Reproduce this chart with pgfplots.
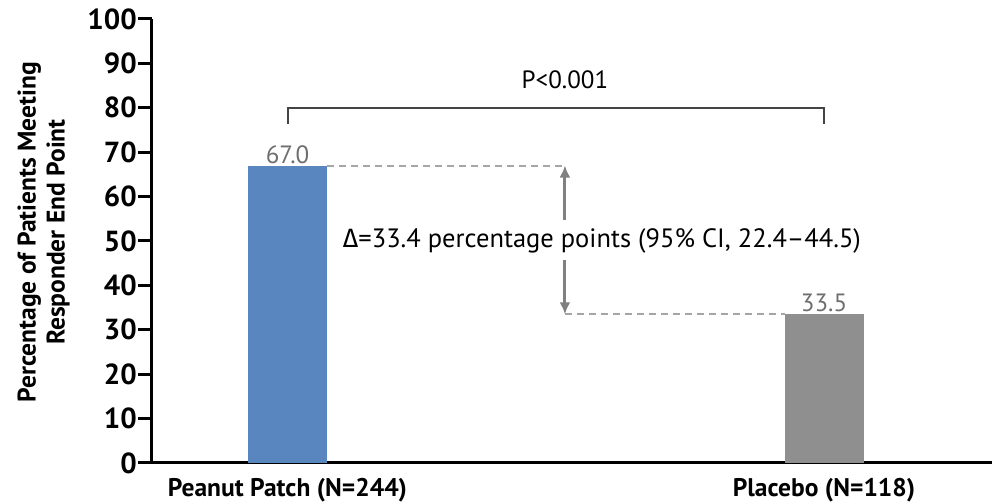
\documentclass[border=0pt]{standalone}
\usepackage{pgfplots}
\pgfplotsset{compat=1.18}
\usetikzlibrary{arrows.meta}
\usepackage{fontspec}
\setmainfont{PT Sans}
\newfontfamily\gr{Fira Sans}
\definecolor{barblue}{HTML}{5A86C0}
\definecolor{bargray}{HTML}{8F8F8F}
\definecolor{dashgray}{HTML}{A5A5A5}
\definecolor{arrgray}{HTML}{808080}
\definecolor{lblgray}{HTML}{6E6E6E}
\definecolor{brk}{HTML}{444444}
\begin{document}
\begin{tikzpicture}
\begin{axis}[
  name=ax,
  scale only axis,
  width=840pt, height=444pt,
  xmin=-0.2526, xmax=1.313,
  ymin=0, ymax=100,
  axis x line=bottom, axis y line=left,
  axis line style={-, line width=3pt, black},
  xtick={0,1},
  xticklabels={Peanut Patch (N=244), Placebo (N=118)},
  x tick style={draw=none},
  xticklabel style={font=\bfseries\fontsize{25.5}{27}\selectfont, inner sep=0pt, anchor=north, yshift=-1pt},
  ytick={0,10,...,100},
  tick align=outside,
  y tick style={line width=3pt, black},
  major tick length=14pt,
  yticklabel style={font=\bfseries\fontsize{29}{30}\selectfont, inner sep=1pt},
  /pgf/number format/assume math mode=true,
  ylabel={Percentage of Patients Meeting\\Responder End Point},
  ylabel style={font=\bfseries\fontsize{25.5}{29}\selectfont, align=center, at={(axis description cs:-0.129,0.52)}, anchor=center},
  clip=false,
]
\addplot[ybar, bar width=0.147, bar shift=0pt, fill=barblue, draw=none] coordinates {(0,67.0)};
\addplot[ybar, bar width=0.147, bar shift=0pt, fill=bargray, draw=none] coordinates {(1,33.5)};
\node[anchor=south, text=lblgray, font=\fontsize{25}{28}\selectfont, inner sep=2pt] at (axis cs:0,67.0) {67.0};
\node[anchor=south, text=lblgray, font=\fontsize{25}{28}\selectfont, inner sep=2pt] at (axis cs:1,33.5) {33.5};
% bracket
\draw[brk, line width=2pt] (axis cs:0,76.4) -- (axis cs:0,80) -- (axis cs:1,80) -- (axis cs:1,76.4);
\node[font=\fontsize{25}{28}\selectfont] at (axis cs:0.517,86.3) {P<0.001};
% dashed lines
\draw[dashgray, line width=2pt, dash pattern=on 7pt off 5pt] (axis cs:0.0735,67) -- (axis cs:0.517,67);
\draw[dashgray, line width=2pt, dash pattern=on 7pt off 5pt] (axis cs:0.517,33.5) -- (axis cs:0.9265,33.5);
% arrows
\draw[arrgray, line width=3pt, -{Latex[length=12pt,width=11pt]}] (axis cs:0.517,54.7) -- (axis cs:0.517,67);
\draw[arrgray, line width=3pt, -{Latex[length=12pt,width=11pt]}] (axis cs:0.517,45.7) -- (axis cs:0.517,33.5);
\node[font=\fontsize{26.5}{28}\selectfont] at (axis cs:0.586,50) {{\gr Δ}=33.4 percentage points (95\% CI, 22.4–44.5)};
\end{axis}
\pgfresetboundingbox
\path ([xshift=-152pt,yshift=-39pt]ax.south west) rectangle ([yshift=19pt]ax.north east);
\end{tikzpicture}
\end{document}
